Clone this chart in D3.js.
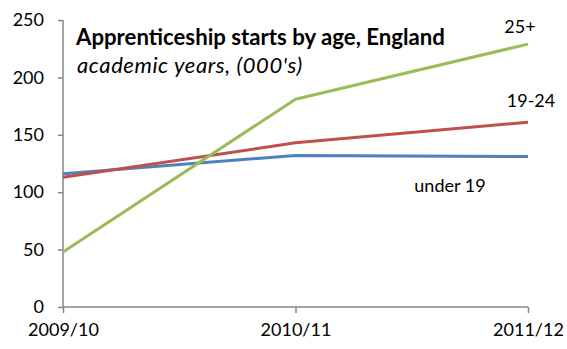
<!DOCTYPE html>
<html>
<head>
<meta charset="utf-8">
<script src="https://cdn.jsdelivr.net/npm/d3@7"></script>
<style>
  html, body { margin: 0; padding: 0; background: #fff; }
  svg { display: block; font-family: Lato, "Open Sans", sans-serif; }
</style>
</head>
<body>
<svg id="chart" width="567" height="349"></svg>
<script>
// Apprenticeship starts by age group, England (thousands)
const years = ["2009/10", "2010/11", "2011/12"];
const under19 = [116, 132, 131];
const age19to24 = [113, 143, 161];
const age25plus = [48, 181, 229];
const yTicks = [0, 50, 100, 150, 200, 250];

const series = [
  { name: "under 19", values: under19, color: "#4F81BD" },
  { name: "19-24", values: age19to24, color: "#C0504D" },
  { name: "25+", values: age25plus, color: "#9BBB59" }
];

const svg = d3.select("#chart");
const margin = { left: 63, right: 39, top: 20, bottom: 42 };
const W = 567, H = 349;

const x = d3.scalePoint().domain(years).range([margin.left, W - margin.right]);
const y = d3.scaleLinear().domain([0, 250]).range([H - margin.bottom, margin.top]);

const axisColor = "#868686";

// y axis
const yAxis = svg.append("g")
  .attr("transform", `translate(${margin.left},0)`)
  .call(d3.axisLeft(y).tickValues(yTicks).tickSize(5).tickPadding(14).tickFormat(d3.format("d")));
yAxis.select(".domain").attr("stroke", axisColor).attr("stroke-width", 1.5).attr("d", `M0,${y(250)}V${y(0)}`);
yAxis.selectAll(".tick line").attr("stroke", axisColor).attr("stroke-width", 1.5);
yAxis.selectAll(".tick text").attr("font-size", 18).attr("fill", "#000").attr("font-family", "Lato, sans-serif");

// x axis
const xAxis = svg.append("g")
  .attr("transform", `translate(0,${y(0)})`)
  .call(d3.axisBottom(x).tickSize(6).tickPadding(10));
xAxis.select(".domain").attr("stroke", axisColor).attr("stroke-width", 1.5).attr("d", `M${x(years[0])},0H${x(years[2])}`);
xAxis.selectAll(".tick line").attr("stroke", axisColor).attr("stroke-width", 1.5);
xAxis.selectAll(".tick text").attr("font-size", 18).attr("fill", "#000").attr("font-family", "Lato, sans-serif");

// lines
const line = d3.line().x((d, i) => x(years[i])).y(d => y(d));
svg.append("g").selectAll("path")
  .data(series)
  .join("path")
  .attr("d", d => line(d.values))
  .attr("fill", "none")
  .attr("stroke", d => d.color)
  .attr("stroke-width", 3)
  .attr("stroke-linejoin", "round");

// series labels
const labels = [
  { text: "25+", x: 520, y: 33 },
  { text: "19-24", x: 531, y: 107 },
  { text: "under 19", x: 450, y: 192 }
];
svg.append("g").selectAll("text")
  .data(labels)
  .join("text")
  .attr("x", d => d.x)
  .attr("y", d => d.y)
  .attr("text-anchor", "middle")
  .attr("font-size", 18)
  .attr("fill", "#000")
  .text(d => d.text);

// title
svg.append("text")
  .attr("x", 76).attr("y", 45)
  .attr("font-size", 22.2).attr("font-weight", "bold").attr("fill", "#000")
  .text("Apprenticeship starts by age, England");
svg.append("text")
  .attr("x", 77).attr("y", 73)
  .attr("font-size", 22).attr("font-style", "italic").attr("fill", "#000")
  .attr("letter-spacing", 0.6)
  .text("academic years, (000's)");
</script>
</body>
</html>
